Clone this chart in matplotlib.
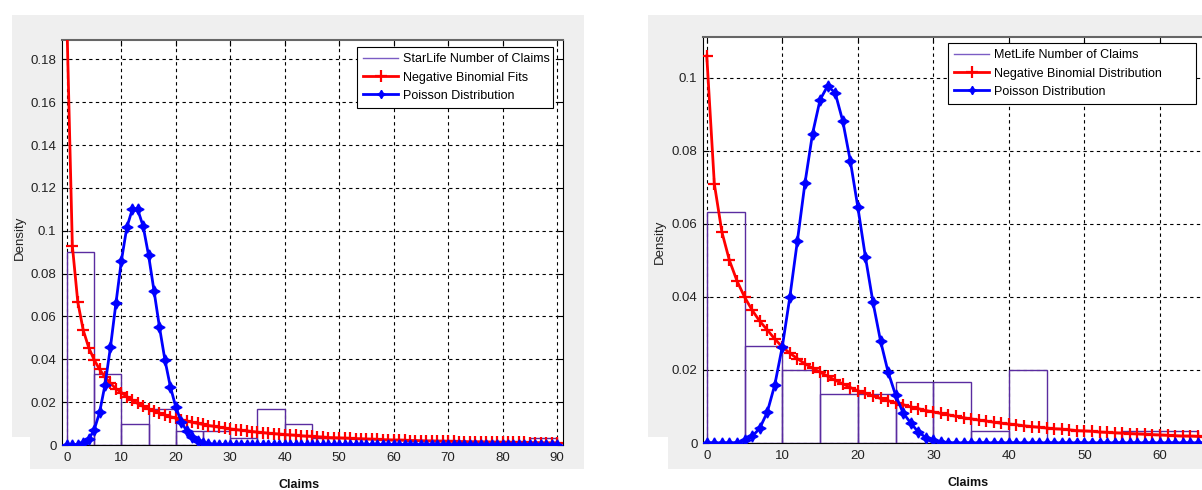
import matplotlib
matplotlib.use('Agg')
import matplotlib.pyplot as plt
import numpy as np
from matplotlib import font_manager
from matplotlib.lines import Line2D
from matplotlib.patches import Rectangle
from matplotlib.ticker import FuncFormatter

# StarLife panel (left)
star_claims = np.arange(0, 91)
star_edges = np.arange(0, 95, 5)
star_hist = [0.09, 0.0333, 0.01, 0.0167, 0.0067, 0.0067, 0.0033, 0.0167, 0.01,
             0.0033, 0.0, 0.0, 0.0, 0.0, 0.0, 0.0, 0.0, 0.0033]
star_negbin = [
    0.197, 0.093, 0.0667, 0.0536, 0.0455, 0.0398, 0.0353, 0.0317, 0.0288, 0.0263,
    0.0245, 0.0226, 0.0209, 0.0194, 0.0180, 0.0168, 0.0158, 0.0149, 0.0140, 0.0132,
    0.0125, 0.0118, 0.0112, 0.0106, 0.0101, 0.0096, 0.0091, 0.0087, 0.0083, 0.0079,
    0.0075, 0.0072, 0.0069, 0.0066, 0.0063, 0.0060, 0.0058, 0.0055, 0.0053, 0.0051,
    0.0049, 0.0047, 0.0045, 0.0043, 0.0041, 0.0040, 0.0038, 0.0037, 0.0035, 0.0034,
    0.0033, 0.0032, 0.0031, 0.0030, 0.0029, 0.0028, 0.0027, 0.0026, 0.0025, 0.0024,
    0.0023, 0.0023, 0.0022, 0.0021, 0.0021, 0.0020, 0.0019, 0.0019, 0.0018, 0.0018,
    0.0017, 0.0017, 0.0016, 0.0016, 0.0015, 0.0015, 0.0015, 0.0014, 0.0014, 0.0013,
    0.0013, 0.0013, 0.0012, 0.0012, 0.0012, 0.0011, 0.0011, 0.0011, 0.0010, 0.0010,
    0.0010]
star_poisson = [
    0.0, 0.0, 0.0002, 0.0008, 0.0027, 0.0070, 0.0152, 0.0281, 0.0457, 0.0661,
    0.0859, 0.1015, 0.1099, 0.1099, 0.1021, 0.0885, 0.0719, 0.0550, 0.0397, 0.0272,
    0.0177, 0.0109, 0.0065, 0.0037, 0.0020, 0.0010, 0.0005, 0.0002, 0.0001, 0.0,
    0.0, 0.0, 0.0, 0.0, 0.0, 0.0, 0.0, 0.0, 0.0, 0.0,
    0.0, 0.0, 0.0, 0.0, 0.0, 0.0, 0.0, 0.0, 0.0, 0.0,
    0.0, 0.0, 0.0, 0.0, 0.0, 0.0, 0.0, 0.0, 0.0, 0.0,
    0.0, 0.0, 0.0, 0.0, 0.0, 0.0, 0.0, 0.0, 0.0, 0.0,
    0.0, 0.0, 0.0, 0.0, 0.0, 0.0, 0.0, 0.0, 0.0, 0.0,
    0.0, 0.0, 0.0, 0.0, 0.0, 0.0, 0.0, 0.0, 0.0, 0.0,
    0.0]
star_labels = ['StarLife Number of Claims', 'Negative Binomial Fits',
               'Poisson Distribution']

# MetLife panel (right)
met_claims = np.arange(0, 71)
met_edges = np.arange(0, 70, 5)
met_hist = [0.0633, 0.0267, 0.02, 0.0133, 0.0133, 0.0167, 0.0167, 0.0033, 0.02,
            0.0, 0.0, 0.0033, 0.0033]
met_negbin = [
    0.106, 0.071, 0.0578, 0.050, 0.0444, 0.040, 0.0364, 0.0334, 0.031, 0.0285,
    0.0263, 0.0246, 0.0231, 0.0217, 0.0205, 0.0194, 0.0183, 0.0172, 0.0162, 0.0152,
    0.0143, 0.0136, 0.0129, 0.0122, 0.0116, 0.0110, 0.0105, 0.0099, 0.0094, 0.0089,
    0.0085, 0.0081, 0.0077, 0.0073, 0.0069, 0.0066, 0.0063, 0.0060, 0.0057, 0.0054,
    0.0052, 0.0050, 0.0047, 0.0045, 0.0043, 0.0041, 0.0039, 0.0038, 0.0036, 0.0034,
    0.0033, 0.0032, 0.0030, 0.0029, 0.0028, 0.0027, 0.0026, 0.0025, 0.0024, 0.0023,
    0.0022, 0.0021, 0.0020, 0.0019, 0.0019, 0.0018, 0.0017, 0.0017, 0.0016, 0.0015,
    0.0015]
met_poisson = [
    0.0, 0.0, 0.0, 0.0, 0.0001, 0.0007, 0.0018, 0.0040, 0.0084, 0.0159,
    0.0264, 0.0400, 0.0554, 0.0712, 0.0847, 0.0940, 0.0978, 0.0959, 0.0882, 0.0773,
    0.0646, 0.0510, 0.0386, 0.0280, 0.0195, 0.0131, 0.0082, 0.0055, 0.0030, 0.0015,
    0.0007, 0.0003, 0.0001, 0.0, 0.0, 0.0, 0.0, 0.0, 0.0, 0.0,
    0.0, 0.0, 0.0, 0.0, 0.0, 0.0, 0.0, 0.0, 0.0, 0.0,
    0.0, 0.0, 0.0, 0.0, 0.0, 0.0, 0.0, 0.0, 0.0, 0.0,
    0.0, 0.0, 0.0, 0.0, 0.0, 0.0, 0.0, 0.0, 0.0, 0.0,
    0.0]
met_labels = ['MetLife Number of Claims', 'Negative Binomial Distribution',
              'Poisson Distribution']

# MATLAB-ish narrow Helvetica look
installed = {f.name for f in font_manager.fontManager.ttflist}
if 'Liberation Sans Narrow' in installed:
    plt.rcParams['font.family'] = 'Liberation Sans Narrow'
    fs_tick, fs_leg = 11, 10.5
else:
    plt.rcParams['font.family'] = 'Liberation Sans'
    fs_tick, fs_leg = 9.5, 9

W, H = 1202, 490
fig = plt.figure(figsize=(W / 100, H / 100), dpi=100, facecolor='white')

GRAY = '#efefef'
HIST_C = '#5a2ca0'
STAR = (4, 1, 0)


def px_rect(x0, y0, x1, y1):
    fig.patches.append(Rectangle((x0 / W, 1 - y1 / H), (x1 - x0) / W, (y1 - y0) / H,
                                 transform=fig.transFigure, facecolor=GRAY,
                                 edgecolor='none', zorder=-5))


# screenshot backgrounds
px_rect(12, 15, 584, 437)
px_rect(30, 437, 584, 469)
px_rect(648, 15, 1202, 437)
px_rect(668, 437, 1202, 469)


def draw_panel(ax, claims, edges, hist, negbin, poisson, xlim, ylim, xticks, yticks):
    ax.bar(edges[:-1], hist, width=5, align='edge', fill=False,
           edgecolor=HIST_C, linewidth=1.0, zorder=2)
    ax.plot(claims, negbin, color='red', lw=2, marker='+', ms=8, mew=1.6, zorder=3)
    ax.plot(claims, poisson, color='blue', lw=2, marker=STAR, ms=8, zorder=4)
    ax.set_xlim(*xlim)
    ax.set_ylim(*ylim)
    ax.set_xticks(xticks)
    ax.set_yticks(yticks)
    ax.yaxis.set_major_formatter(FuncFormatter(lambda v, p: f'{v:g}'))
    ax.grid(True, color='black', linestyle=(0, (3, 3)), linewidth=0.8)
    ax.set_axisbelow(True)
    ax.tick_params(direction='in', top=True, right=True, length=4, width=0.8,
                   labelsize=fs_tick, labelcolor='#222222')
    ax.tick_params(axis='x', pad=5)
    ax.tick_params(axis='y', pad=4)
    for side in ['left', 'bottom', 'right']:
        ax.spines[side].set_color('black')
    ax.spines['top'].set_color('#666666')
    ax.spines['top'].set_linewidth(1.5)


def make_legend(ax, labels, box):
    x0, y0, x1, y1 = box
    handles = [Line2D([], [], color='#7b5cc4', lw=1),
               Line2D([], [], color='red', lw=2, marker='+', ms=8, mew=1.6),
               Line2D([], [], color='blue', lw=2, marker=STAR, ms=6)]
    leg = ax.legend(handles, labels, loc='upper left', mode='expand',
                    bbox_to_anchor=(x0 / W, 1 - y1 / H, (x1 - x0) / W, (y1 - y0) / H),
                    bbox_transform=fig.transFigure, borderaxespad=0,
                    fontsize=fs_leg, frameon=True, fancybox=False, framealpha=1,
                    edgecolor='black', handlelength=2.8, handletextpad=0.4,
                    labelspacing=0.5, borderpad=0.5)
    leg.get_frame().set_linewidth(0.8)


# left axes
ax1 = fig.add_axes([62 / W, 1 - 445 / H, 501 / W, 405 / H])
draw_panel(ax1, star_claims, star_edges, star_hist, star_negbin, star_poisson,
           (-0.9, 91.1), (0, 0.189), np.arange(0, 91, 10),
           np.arange(0, 0.181, 0.02))
make_legend(ax1, star_labels, (357, 47, 553, 111))

# right axes (cut off by the screenshot)
ax2 = fig.add_axes([703 / W, 1 - 443 / H, 532.5 / W, 406 / H])
draw_panel(ax2, met_claims, met_edges, met_hist, met_negbin, met_poisson,
           (-0.5, 70), (0, 0.1112), np.arange(0, 61, 10),
           np.arange(0, 0.101, 0.02))
make_legend(ax2, met_labels, (948, 43, 1196, 112))

# axis labels
fig.text(20 / W, 1 - 238 / H, 'Density', rotation=90, ha='center', va='center',
         fontsize=fs_tick, color='#222222')
fig.text(660 / W, 1 - 242 / H, 'Density', rotation=90, ha='center', va='center',
         fontsize=fs_tick, color='#222222')
fig.text(299 / W, 1 - 485 / H, 'Claims', ha='center', va='center', fontsize=9,
         fontweight='bold', family='Liberation Sans', color='#111111')
fig.text(968 / W, 1 - 483 / H, 'Claims', ha='center', va='center', fontsize=9,
         fontweight='bold', family='Liberation Sans', color='#111111')

fig.savefig('out.png', dpi=100, facecolor='white')
